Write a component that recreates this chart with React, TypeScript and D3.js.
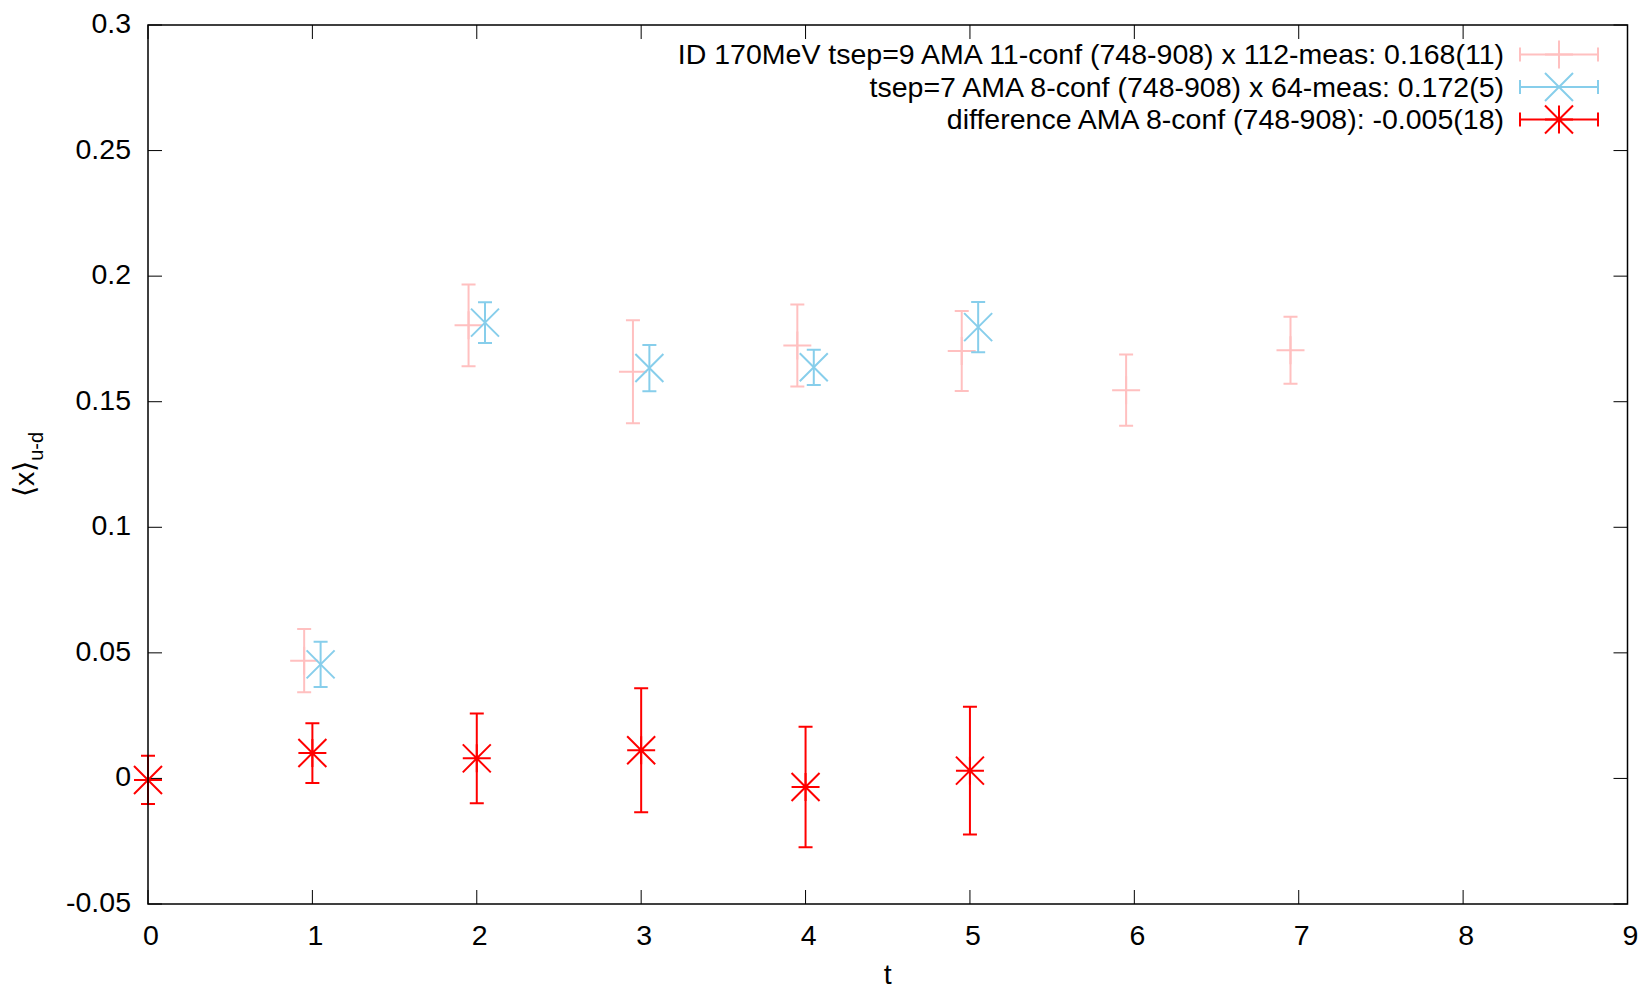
import React from "react";
import * as d3 from "d3";

// ---- data ----
const tTsep9 = [1, 2, 3, 4, 5, 6, 7];
const valTsep9 = [0.0469, 0.1804, 0.1619, 0.1724, 0.1702, 0.1546, 0.1705];
const errTsep9 = [0.0126, 0.0163, 0.0205, 0.0163, 0.0159, 0.0142, 0.0133];

const tTsep7 = [1, 2, 3, 4, 5];
const valTsep7 = [0.0454, 0.1815, 0.1634, 0.1637, 0.1797];
const errTsep7 = [0.009, 0.0081, 0.0092, 0.007, 0.01];

const tDiff = [0, 1, 2, 3, 4, 5];
const valDiff = [-0.0006, 0.0101, 0.008, 0.0112, -0.0034, 0.0031];
const errDiff = [0.0096, 0.0119, 0.0179, 0.0247, 0.024, 0.0254];

const xTicks = [0, 1, 2, 3, 4, 5, 6, 7, 8, 9];
const yTicks = [-0.05, 0, 0.05, 0.1, 0.15, 0.2, 0.25, 0.3];
const yTickLabels = ["-0.05", "0", "0.05", "0.1", "0.15", "0.2", "0.25", "0.3"];

const legendLabels = [
  "ID 170MeV tsep=9 AMA 11-conf (748-908) x 112-meas: 0.168(11)",
  "tsep=7 AMA 8-conf (748-908) x 64-meas: 0.172(5)",
  "difference AMA 8-conf (748-908): -0.005(18)",
];

const W = 1641;
const H = 990;
const M = { left: 148, right: 1627.5, top: 25, bottom: 904 };
const FONT = "'Liberation Sans', Arial, Helvetica, sans-serif";
const FS = 28.5;

type Sym = "plus" | "cross" | "star";

function symbolPath(kind: Sym, cx: number, cy: number, s: number): string {
  const p = d3.path();
  if (kind === "plus" || kind === "star") {
    p.moveTo(cx - s, cy);
    p.lineTo(cx + s, cy);
    p.moveTo(cx, cy - s);
    p.lineTo(cx, cy + s);
  }
  if (kind === "cross" || kind === "star") {
    p.moveTo(cx - s, cy - s);
    p.lineTo(cx + s, cy + s);
    p.moveTo(cx - s, cy + s);
    p.lineTo(cx + s, cy - s);
  }
  return p.toString();
}

function errPath(x: number, y0: number, y1: number, cap: number): string {
  const p = d3.path();
  p.moveTo(x, y0);
  p.lineTo(x, y1);
  p.moveTo(x - cap, y0);
  p.lineTo(x + cap, y0);
  p.moveTo(x - cap, y1);
  p.lineTo(x + cap, y1);
  return p.toString();
}

export default function App() {
  React.useEffect(() => {
    document.body.style.margin = "0";
  }, []);

  const x = d3.scaleLinear().domain([0, 9]).range([M.left, M.right]);
  const y = d3.scaleLinear().domain([-0.05, 0.3]).range([M.bottom, M.top]);

  const series = [
    { t: tTsep9, v: valTsep9, e: errTsep9, off: -0.05, color: "#ffc0c0", sym: "plus" as Sym },
    { t: tTsep7, v: valTsep7, e: errTsep7, off: 0.05, color: "#87ceeb", sym: "cross" as Sym },
    { t: tDiff, v: valDiff, e: errDiff, off: 0, color: "#ff0000", sym: "star" as Sym },
  ];

  const S = 14; // symbol half size
  const CAP = 7;
  const TICK = 14;

  const legendY = [54.5, 87, 119.5];

  return (
    <svg
      width={W}
      height={H}
      style={{ position: "absolute", left: 0, top: 0, background: "#fff" }}
      fontFamily={FONT}
    >
      <rect x={0} y={0} width={W} height={H} fill="#fff" />

      {/* ticks */}
      <g stroke="#000" strokeWidth={1}>
        {xTicks.map((t) => (
          <g key={"xt" + t}>
            <line x1={x(t)} x2={x(t)} y1={M.bottom} y2={M.bottom - TICK} />
            <line x1={x(t)} x2={x(t)} y1={M.top} y2={M.top + TICK} />
          </g>
        ))}
        {yTicks.map((v) => (
          <g key={"yt" + v}>
            <line x1={M.left} x2={M.left + TICK} y1={y(v)} y2={y(v)} />
            <line x1={M.right} x2={M.right - TICK} y1={y(v)} y2={y(v)} />
          </g>
        ))}
      </g>

      {/* tick labels */}
      <g fontSize={FS} fill="#000">
        {xTicks.map((t) => (
          <text key={"xl" + t} x={x(t) + 3} y={945} textAnchor="middle">
            {String(t)}
          </text>
        ))}
        {yTicks.map((v, i) => (
          <text key={"yl" + v} x={131} y={y(v) + 8} textAnchor="end">
            {yTickLabels[i]}
          </text>
        ))}
      </g>

      {/* axis labels */}
      <text x={x(4.5)} y={984} textAnchor="middle" fontSize={FS} fill="#000">
        t
      </text>
      <text
        transform={`translate(34, ${(M.top + M.bottom) / 2}) rotate(-90)`}
        textAnchor="middle"
        fontSize={FS}
        fill="#000"
      >
        <tspan>⟨x⟩</tspan>
        <tspan fontSize={20} dy={9}>
          u-d
        </tspan>
      </text>

      {/* data */}
      {series.map((s, si) => (
        <g key={"s" + si} stroke={s.color} strokeWidth={2} fill="none">
          {s.t.map((t, i) => {
            const cx = x(t + s.off);
            return (
              <g key={i}>
                <path d={errPath(cx, y(s.v[i] + s.e[i]), y(s.v[i] - s.e[i]), CAP)} />
                <path d={symbolPath(s.sym, cx, y(s.v[i]), S)} />
              </g>
            );
          })}
        </g>
      ))}

      {/* legend */}
      {series.map((s, si) => {
        const ly = legendY[si];
        const x0 = 1520;
        const x1 = 1598;
        const p = d3.path();
        p.moveTo(x0, ly);
        p.lineTo(x1, ly);
        p.moveTo(x0, ly - CAP);
        p.lineTo(x0, ly + CAP);
        p.moveTo(x1, ly - CAP);
        p.lineTo(x1, ly + CAP);
        return (
          <g key={"lg" + si}>
            <text x={1504} y={ly + 9.5} textAnchor="end" fontSize={FS} fill="#000">
              {legendLabels[si]}
            </text>
            <g stroke={s.color} strokeWidth={2} fill="none">
              <path d={p.toString()} />
              <path d={symbolPath(s.sym, (x0 + x1) / 2, ly, S)} />
            </g>
          </g>
        );
      })}

      {/* border */}
      <rect
        x={M.left}
        y={M.top}
        width={M.right - M.left}
        height={M.bottom - M.top}
        fill="none"
        stroke="#000"
        strokeWidth={1.5}
      />
    </svg>
  );
}
